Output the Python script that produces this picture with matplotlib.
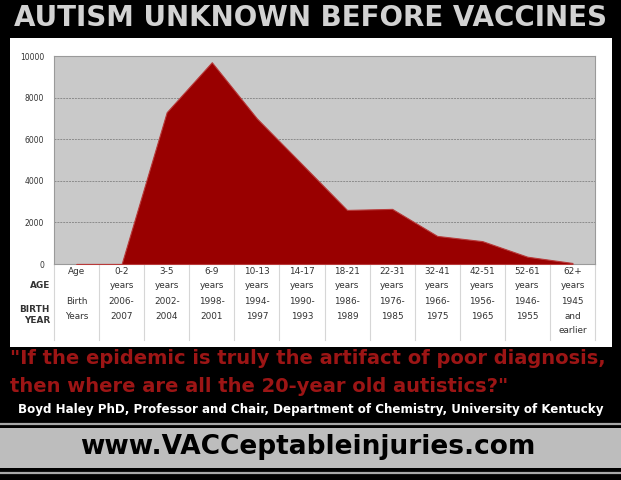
import matplotlib
matplotlib.use("Agg")
import matplotlib.pyplot as plt
import matplotlib.transforms as mtransforms
from matplotlib.patches import Rectangle
from matplotlib.lines import Line2D
import numpy as np

# data
ages = ["Age", "0-2\nyears", "3-5\nyears", "6-9\nyears", "10-13\nyears", "14-17\nyears",
        "18-21\nyears", "22-31\nyears", "32-41\nyears", "42-51\nyears", "52-61\nyears", "62+\nyears"]
birth_years = ["Birth\nYears", "2006-\n2007", "2002-\n2004", "1998-\n2001", "1994-\n1997", "1990-\n1993",
               "1986-\n1989", "1976-\n1985", "1966-\n1975", "1956-\n1965", "1946-\n1955", "1945\nand\nearlier"]
cases = [0, 0, 7300, 9700, 7000, 4800, 2600, 2650, 1350, 1100, 350, 50]
yticks = [0, 2000, 4000, 6000, 8000, 10000]

W, H = 621, 480
fig = plt.figure(figsize=(W / 100, H / 100), dpi=100)
fig.patch.set_facecolor("black")


def fy(py):
    # pixel row -> figure fraction
    return 1 - py / H


# white panel behind the chart
fig.add_artist(Rectangle((10 / W, fy(347)), 602 / W, (347 - 38) / H,
                         transform=fig.transFigure, facecolor="white", edgecolor="none", zorder=0))
# grey band at the bottom
fig.add_artist(Rectangle((0, fy(468)), 1, 40 / H,
                         transform=fig.transFigure, facecolor="#bdbdbd", edgecolor="none", zorder=0))
for py in [423.5, 472.5]:
    fig.add_artist(Line2D([0, 1], [fy(py), fy(py)], transform=fig.transFigure,
                          color="#a8a8a8", lw=1.6, zorder=0))

fig.text(0.5, fy(18), "AUTISM UNKNOWN BEFORE VACCINES", ha="center", va="center",
         fontsize=20.0, fontweight="bold", color="#d2d2d2", family="DejaVu Sans")

ax = fig.add_axes([54 / W, fy(264), 541 / W, 208 / H])
ax.set_facecolor("#c9c9c9")
x = np.arange(len(cases))
ax.fill_between(x, cases, color="#990000", edgecolor="#b83a3a", lw=0.8, zorder=3)
ax.set_xlim(-0.5, len(cases) - 0.5)
ax.set_ylim(0, 10000)
ax.set_yticks(yticks)
ax.set_yticklabels([str(v) for v in yticks], fontsize=5.5, color="#333333")
ax.tick_params(axis="y", length=0, pad=7)
ax.set_xticks([])
ax.grid(axis="y", color="#8c8c8c", lw=0.7, ls=(0, (2, 1)), zorder=1)
for s in ax.spines.values():
    s.set_color("#9a9a9a")
    s.set_linewidth(0.8)

# table under the chart
tr = mtransforms.blended_transform_factory(ax.transData, fig.transFigure)
for b in np.arange(-0.5, len(cases) + 0.5):
    ax.add_line(Line2D([b, b], [fy(264), fy(340)], transform=tr, color="#d6d6d6",
                       lw=0.8, clip_on=False))
for i in range(len(cases)):
    ax.text(i, fy(266.5), ages[i], transform=tr, ha="center", va="top", fontsize=6.4,
            color="#333333", linespacing=1.8)
    ax.text(i, fy(297.5), birth_years[i], transform=tr, ha="center", va="top", fontsize=6.4,
            color="#333333", linespacing=1.75)
fig.text(50 / W, fy(285), "AGE", ha="right", va="center", fontsize=6.4,
         fontweight="bold", color="#333333")
fig.text(50 / W, fy(315), "BIRTH\nYEAR", ha="right", va="center", fontsize=6.4,
         fontweight="bold", color="#333333", multialignment="right", linespacing=1.3)

# quote and credits
fig.text(10 / W, fy(358), "\"If the epidemic is truly the artifact of poor diagnosis,",
         ha="left", va="center", fontsize=14.0, fontweight="bold", color="#9c1515",
         family="DejaVu Sans")
fig.text(10 / W, fy(387), "then where are all the 20-year old autistics?\"",
         ha="left", va="center", fontsize=14.0, fontweight="bold", color="#9c1515",
         family="DejaVu Sans")
fig.text(0.5, fy(409), "Boyd Haley PhD, Professor and Chair, Department of Chemistry, University of Kentucky",
         ha="center", va="center", fontsize=8.6, fontweight="bold", color="white",
         family="DejaVu Sans")
fig.text(0.495, fy(447), "www.VACCeptableinjuries.com", ha="center", va="center",
         fontsize=19, fontweight="bold", color="black", family="DejaVu Sans")

fig.savefig("out.png", dpi=100, facecolor=fig.get_facecolor())
